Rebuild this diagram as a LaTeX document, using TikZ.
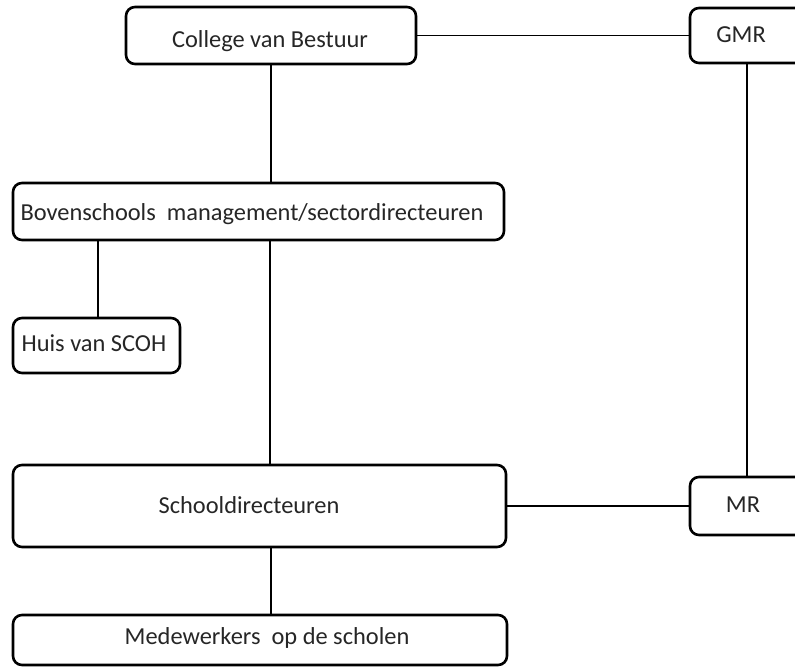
\documentclass[tikz,border=0pt]{standalone}
\usepackage{fontspec}
\setmainfont{Carlito}
\begin{document}
\begin{tikzpicture}[x=1pt,y=-1pt,
  box/.style={draw=black, line width=2.6pt, rounded corners=9pt, fill=white, inner sep=0pt},
  lbl/.style={anchor=base, inner sep=0pt, text=black!85, font=\fontsize{24.4}{29}\selectfont},
  conn/.style={draw=black, line width=1.8pt}]
\useasboundingbox (0,0) rectangle (795,668);
\fill[white] (0,0) rectangle (795,668);
\clip (0,0) rectangle (795,668);
% boxes
\node[box, minimum width=290pt, minimum height=57pt] (coll) at (271,35.5) {};
\node[box, minimum width=160pt, minimum height=55pt] (gmr) at (770,35.5) {};
\node[box, minimum width=491pt, minimum height=57pt] (bov) at (258.5,211.5) {};
\node[box, minimum width=167pt, minimum height=55pt] (huis) at (96.5,345.5) {};
\node[box, minimum width=493pt, minimum height=82pt] (sd) at (259.5,506) {};
\node[box, minimum width=160pt, minimum height=58pt] (mr) at (770,506) {};
\node[box, minimum width=494pt, minimum height=50pt] (mw) at (260,640) {};
% connectors
\draw[conn] (coll.east) -- (coll.east -| gmr.west);
\draw[conn] (coll.south) -- (coll.south |- bov.north);
\draw[conn] (bov.south -| 98,0) -- (huis.north -| 98,0);
\draw[conn] (bov.south -| 270,0) -- (sd.north -| 270,0);
\draw[conn] (sd.south -| 271,0) -- (mw.north -| 271,0);
\draw[conn] (gmr.south -| 747,0) -- (mr.north -| 747,0);
\draw[conn] (sd.east) -- (sd.east -| mr.west);
% labels
\node[lbl] (tcoll) at (270,48) {College van Bestuur};
\node[lbl] (tgmr) at (741,43) {GMR};
\node[lbl] (tbov) at (252,221) {Bovenschools\ \ management/sectordirecteuren};
\node[lbl] (thuis) at (94,351) {Huis van SCOH};
\node[lbl] (tsd) at (249,513) {Schooldirecteuren};
\node[lbl] (tmr) at (743,512) {MR};
\node[lbl] (tmw) at (267,644) {Medewerkers\ \ op de scholen};
\end{tikzpicture}
\end{document}
